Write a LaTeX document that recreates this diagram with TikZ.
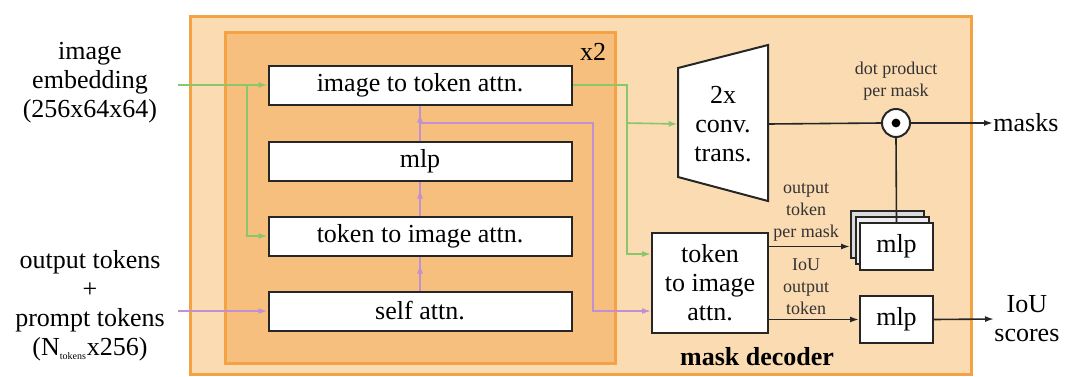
\documentclass[tikz,border=0pt]{standalone}
\usepackage{fontspec}
\setmainfont{Liberation Serif}
\usetikzlibrary{arrows.meta,calc}
\definecolor{outerfill}{RGB}{250,219,178}
\definecolor{innerfill}{RGB}{247,191,126}
\definecolor{boxedge}{RGB}{244,162,68}
\definecolor{embgreen}{RGB}{138,198,108}
\definecolor{tokpurple}{RGB}{192,144,208}
\newcommand{\lbltxt}{\fontsize{13}{14.5}\selectfont}
\newcommand{\notetxt}{\fontsize{9}{11}\selectfont}
\begin{document}
\begin{tikzpicture}[x=0.5pt,y=-0.5pt,font=\lbltxt,
        blk/.style={draw=black!85,line width=1pt,fill=white,minimum width=151.5pt,minimum height=19.5pt,inner sep=0pt},
        sblk/.style={draw=black!85,line width=1pt,fill=white,minimum width=36.5pt,minimum height=23.5pt,inner sep=0pt},
        gline/.style={embgreen,line width=0.8pt},
        pline/.style={tokpurple,line width=0.8pt},
        kline/.style={black!85,line width=0.8pt},
        tip/.style={-{Latex[length=4.5pt,width=3pt]}},
        note/.style={font=\notetxt,align=center,text=black!80}]
        \useasboundingbox (0,0) rectangle (1071,376);

        % decoder and x2 boxes
        \draw[boxedge,line width=1.5pt,fill=outerfill] (190,16) rectangle (971,374);
        \draw[boxedge,line width=1.5pt,fill=innerfill] (225,32) rectangle (615,363);
        \node at (593,52) {x2};
        \node[font=\lbltxt\bfseries] at (757,357) {mask decoder};

        \node at (90,83) [align=center] (emb) {image\\embedding\\(256x64x64)};
        \node at (90,306) [align=center] (tok) {output tokens\\+\\prompt tokens\\(N\textsubscript{\tiny tokens}x256)};

        \node at (420,85) [blk] (i2t) {image to token attn.};
        \node at (420,161) [blk] (mlp) {mlp};
        \node at (420,236) [blk] (t2i) {token to image attn.};
        \node at (420,311) [blk] (self) {self attn.};

        \coordinate (embin) at (178,85);
        \coordinate (gsplit) at (247,85);
        \coordinate (tokin) at (178,311);
        \coordinate (pbr) at (420,123);
        \coordinate (pturn) at (593,123);
        \coordinate (gturn) at (627,85);
        \coordinate (gbr) at (627,123);

        \draw[gline,tip] (embin) -- (i2t.west);
        \draw[gline,tip] (gsplit) |- (t2i.west);
        \draw[pline,tip] (tokin) -- (self.west);
        \foreach \a/\b in {self/t2i,t2i/mlp,mlp/i2t}{
            \draw[pline] (\a.north) -- (\b.south);
            \draw[pline,tip,shorten >=4pt] (\a.north) -- (\b.south);
        }

        % right half
        \draw[black!85,line width=1pt,fill=white] (678,68) -- (768,45) -- (768,201) -- (678,177) -- cycle;
        \node at (723,124) [align=center,minimum width=45pt,inner sep=0pt] (conv) {2x\\conv.\\trans.};
        \node at (710,283) [draw=black!85,line width=1pt,fill=white,minimum width=58pt,minimum height=50pt,inner sep=0pt,align=center] (dt2i) {token\\to image\\attn.};

        \draw[gline,tip] (i2t.east) -- (gturn) |- ($(dt2i.north west)+(0,22)$);
        \draw[gline,tip] (gbr) -- (conv.west);
        \draw[pline,tip] (pbr) -- (pturn) |- (dt2i.west |- self.west);

        \node at (896,123) [draw=black!85,line width=1pt,fill=white,circle,minimum size=14pt,inner sep=0pt] (dotp) {};
        \fill[black] (dotp) circle (2.2pt);
        \node at (896,81) [note] {dot product\\per mask};
        \node at (993,123) [anchor=west,inner sep=0pt] (masks) {masks};
        \draw[kline] (conv.east) -- (dotp.west);
        \draw[kline,tip] (dotp.east) -- (masks.west);

        \node at (887.5,234.5) [sblk,fill=black!14] (mlpb) {};
        \node at (892,240.5) [sblk,fill=black!7] (mlpc) {};
        \draw[kline] (dotp.south) -- (896.5,223);
        \node at (896.5,246.5) [sblk] (mlpm) {mlp};
        \node at (896.5,319.5) [sblk] (iou) {mlp};
        \node at (994,319) [anchor=west,inner sep=0pt,align=center] (scores) {IoU\\scores};

        \draw[kline,tip] (dt2i.east |- mlpm.west) -- (mlpb.west |- mlpm.west);
        \draw[kline,tip] (dt2i.east |- iou.west) -- (iou.west);
        \draw[kline,tip] (iou.east) -- (scores.west);

        \node at (806,212) [note] {output\\token\\per mask};
        \node at (806,287) [note] {IoU\\output\\token};
\end{tikzpicture}
\end{document}
